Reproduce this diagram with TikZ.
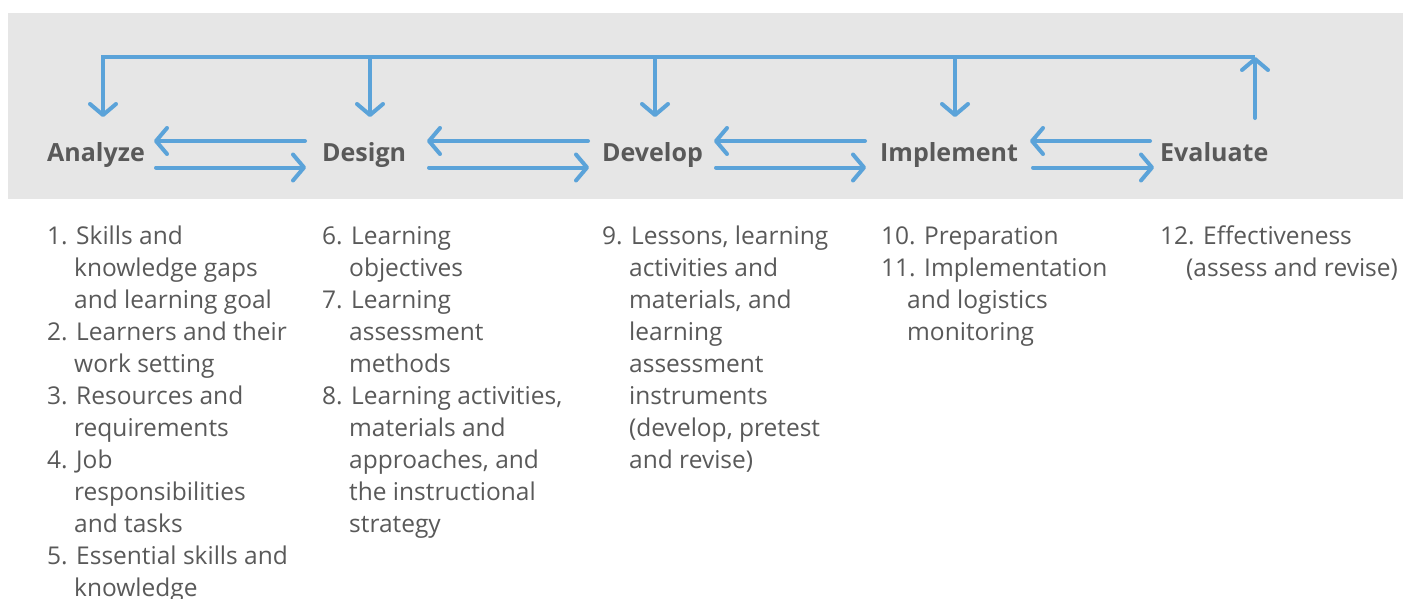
\documentclass[tikz,border=0pt]{standalone}
\usepackage{fontspec}
\setmainfont{Open Sans}
\usetikzlibrary{arrows.meta}
\definecolor{band}{HTML}{E6E6E6}
\definecolor{flow}{HTML}{5BA3D9}
\definecolor{txt}{HTML}{595959}
\tikzset{
  phase/.style={anchor=base west, inner sep=0pt, text=txt, font=\fontsize{25}{30}\selectfont\bfseries},
  items/.style={anchor=north west, inner sep=0pt, align=left, text=txt, font=\fontsize{24.5}{32}\selectfont},
  conn/.style={draw=flow, line width=4pt, line cap=round,
    -{Straight Barb[length=11pt, width=26pt, round]}},
  plain/.style={draw=flow, line width=4pt, line cap=round}
}
\newcommand{\ind}{\hspace*{27pt}}
\begin{document}
\begin{tikzpicture}[x=1pt, y=-1pt]
\useasboundingbox (0,0) rectangle (1403,598);
\fill[band] (8,13) rectangle (1403,199);

% phase labels
\node[phase] (an) at (47,161) {Analyze};
\node[phase] (de) at (322,161) {Design};
\node[phase] (dv) at (602,161) {Develop};
\node[phase] (im) at (880,161) {Implement};
\node[phase] (ev) at (1160,161) {Evaluate};

% endpoints
\coordinate (evup) at (1255,118);
\coordinate (evtop) at (1255,57);
\coordinate (antop) at (103,57);
\coordinate (androp) at (103,117);
\coordinate (detop) at (370,57);
\coordinate (dedrop) at (370,117);
\coordinate (dvtop) at (655,57);
\coordinate (dvdrop) at (655,117);
\coordinate (imtop) at (955,57);
\coordinate (imdrop) at (955,117);

\coordinate (ad1) at (154,141); \coordinate (ad2) at (305,141);
\coordinate (ad3) at (156,167.5); \coordinate (ad4) at (306,167.5);
\coordinate (dd1) at (427,141); \coordinate (dd2) at (588,141);
\coordinate (dd3) at (429,167.5); \coordinate (dd4) at (589,167.5);
\coordinate (di1) at (714,141); \coordinate (di2) at (865,141);
\coordinate (di3) at (716,167.5); \coordinate (di4) at (866,167.5);
\coordinate (ie1) at (1030,141); \coordinate (ie2) at (1150,141);
\coordinate (ie3) at (1033,167.5); \coordinate (ie4) at (1154,167.5);

% feedback loop
\draw[conn] (evup) -- (evtop);
\draw[conn, line cap=butt] (evtop) -- (antop) -- (androp);
\draw[conn] (detop) -- (dedrop);
\draw[conn] (dvtop) -- (dvdrop);
\draw[conn] (imtop) -- (imdrop);

% pairwise arrows
\draw[conn] (ad2) -- (ad1);
\draw[conn] (ad3) -- (ad4);
\draw[conn] (dd2) -- (dd1);
\draw[conn] (dd3) -- (dd4);
\draw[conn] (di2) -- (di1);
\draw[conn] (di3) -- (di4);
\draw[conn] (ie2) -- (ie1);
\draw[conn] (ie3) -- (ie4);

% item lists
\node[items] (l1) at (47,226) {1. Skills and\\
\ind knowledge gaps\\
\ind and learning goal\\
2. Learners and their\\
\ind work setting\\
3. Resources and\\
\ind requirements\\
4. Job\\
\ind responsibilities\\
\ind and tasks\\
5. Essential skills and\\
\ind knowledge};
\node[items] (l2) at (322,226) {6. Learning\\
\ind objectives\\
7. Learning\\
\ind assessment\\
\ind methods\\
8. Learning activities,\\
\ind materials and\\
\ind approaches, and\\
\ind the instructional\\
\ind strategy};
\node[items] (l3) at (602,226) {9. Lessons, learning\\
\ind activities and\\
\ind materials, and\\
\ind learning\\
\ind assessment\\
\ind instruments\\
\ind (develop, pretest\\
\ind and revise)};
\node[items] (l4) at (881,226) {10. Preparation\\
11. Implementation\\
\hspace*{26pt}and logistics\\
\hspace*{26pt}monitoring};
\node[items] (l5) at (1160,226) {12. Effectiveness\\
\hspace*{26pt}(assess and revise)};
\end{tikzpicture}
\end{document}
